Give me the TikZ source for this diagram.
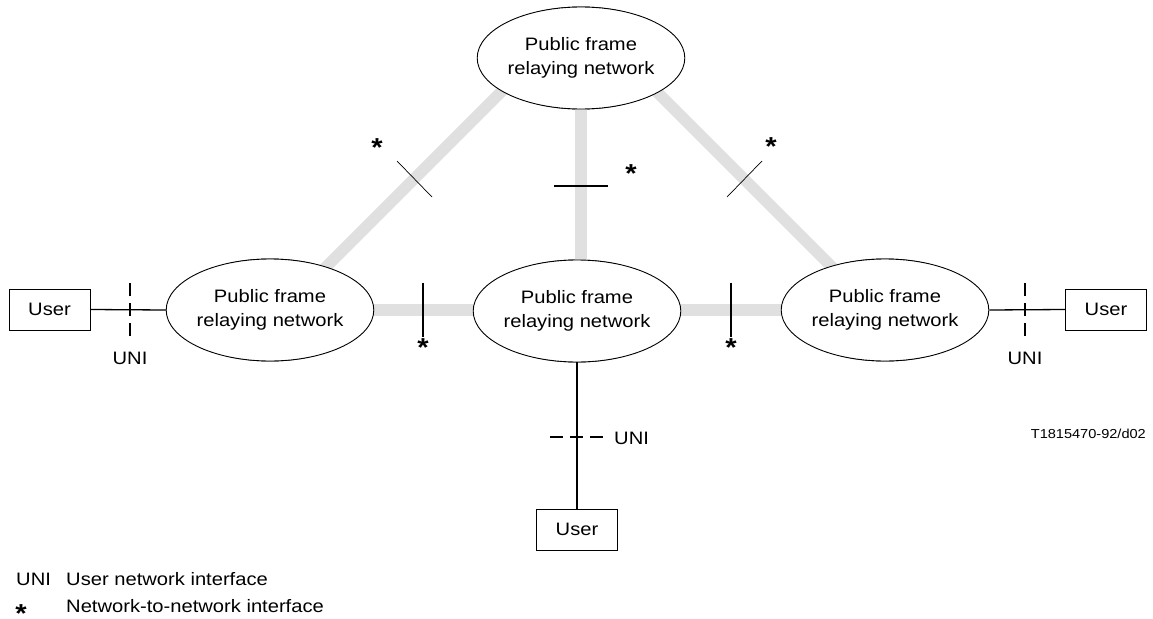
\documentclass[tikz,border=0pt]{standalone}
\usepackage{fontspec}
\setmainfont{Liberation Sans}[FakeStretch=1.12]
\usetikzlibrary{shapes.geometric}
\newcommand\nnisym{\raisebox{-14.5pt}[0pt][0pt]{*}}
\begin{document}
\begin{tikzpicture}[x=1pt,y=-1pt,
  net/.style={ellipse,draw,line width=0.9pt,fill=white,minimum width=200pt,minimum height=102pt,inner sep=0pt,align=center,font=\fontsize{18}{23.5}\selectfont},
  userbox/.style={draw,line width=0.9pt,fill=white,minimum width=81pt,minimum height=41pt,inner sep=0pt,font=\fontsize{18}{24}\selectfont},
  grayline/.style={line width=11.5pt,draw=black!12},
  blk/.style={line width=1.3pt},
  uni/.style={line width=1.3pt,dash pattern=on 13pt off 7pt},
  thicktick/.style={line width=1.6pt},
  thintick/.style={line width=0.7pt},
  nnistar/.style={inner sep=0pt,anchor=center,font=\fontsize{26}{26}\bfseries},
  lbl/.style={inner sep=0pt,anchor=base,font=\fontsize{18}{24}\selectfont}]
\useasboundingbox (0,0) rectangle (1153,618);
% gray inter-network links
\coordinate (d1a) at (524,69);
\coordinate (d1b) at (304,289);
\coordinate (d2a) at (634,69);
\coordinate (d2b) at (854,289);
\node[net] (top) at (581,58) {};
\node[net] (left) at (270,310) {};
\node[net] (mid) at (577,311) {};
\node[net] (right) at (885,310) {};
\draw[grayline] (d1a) -- (d1b);
\draw[grayline] (d2a) -- (d2b);
\draw[grayline] (top.south) -- (top.south |- mid.north);
\draw[grayline] (left.east) -- (left.east -| mid.west);
\draw[grayline] (mid.east |- right.west) -- (right.west);
% networks (drawn over the links)
\node[net] (top) at (581,58) {\raisebox{-2pt}{\begin{tabular}{@{}c@{}}Public frame\\relaying network\end{tabular}}};
\node[net] (left) at (270,310) {\raisebox{-2pt}{\begin{tabular}{@{}c@{}}Public frame\\relaying network\end{tabular}}};
\node[net] (mid) at (577,311) {\raisebox{-2pt}{\begin{tabular}{@{}c@{}}Public frame\\relaying network\end{tabular}}};
\node[net] (right) at (885,310) {\raisebox{-2pt}{\begin{tabular}{@{}c@{}}Public frame\\relaying network\end{tabular}}};
% users
\node[userbox] (userL) at (49.5,309.5) {User};
\node[userbox] (userR) at (1106,309.5) {User};
\node[userbox] (userB) at (577,529.5) {User};
\draw[blk] (userL.east) -- (left.west);
\draw[blk] (right.east) -- (userR.west);
\draw[blk] (mid.south) -- (userB.north);
% UNI marks
\coordinate (u1a) at (130,283); \coordinate (u1b) at (130,337);
\coordinate (u2a) at (1025,283); \coordinate (u2b) at (1025,337);
\coordinate (u3a) at (550,437); \coordinate (u3b) at (604,437);
\draw[uni] (u1a) -- (u1b);
\draw[uni] (u2a) -- (u2b);
\draw[uni] (u3a) -- (u3b);
\node[lbl,anchor=base] (uniL) at (130,364) {UNI};
\node[lbl,anchor=base] (uniR) at (1025,364) {UNI};
\node[lbl,anchor=base west] (uniB) at (614,444) {UNI};
% NNI marks
\coordinate (t1a) at (397,161); \coordinate (t1b) at (432,197);
\coordinate (t2a) at (727,197); \coordinate (t2b) at (762,161);
\coordinate (t3a) at (554,186); \coordinate (t3b) at (608,186);
\coordinate (t4a) at (423,283); \coordinate (t4b) at (423,337);
\coordinate (t5a) at (731,283); \coordinate (t5b) at (731,337);
\draw[thintick] (t1a) -- (t1b);
\draw[thintick] (t2a) -- (t2b);
\draw[thicktick] (t3a) -- (t3b);
\draw[thicktick] (t4a) -- (t4b);
\draw[thicktick] (t5a) -- (t5b);
\node[nnistar] (s1) at (377,142) {\nnisym};
\node[nnistar] (s2) at (631,168) {\nnisym};
\node[nnistar] (s3) at (771,141) {\nnisym};
\node[nnistar] (s4) at (423,342) {\nnisym};
\node[nnistar] (s5) at (731,342) {\nnisym};
% figure id
\node[inner sep=0pt,anchor=base east,font=\fontsize{13}{15}\selectfont] (fig) at (1146,438) {T1815470-92/d02};
% legend
\node[lbl,anchor=base west] (k1) at (16,585) {UNI};
\node[lbl,anchor=base west] (k1t) at (66,585) {User network interface};
\node[nnistar] (k2) at (21,608) {\nnisym};
\node[lbl,anchor=base west] (k2t) at (66,612) {Network-to-network interface};
\end{tikzpicture}
\end{document}
